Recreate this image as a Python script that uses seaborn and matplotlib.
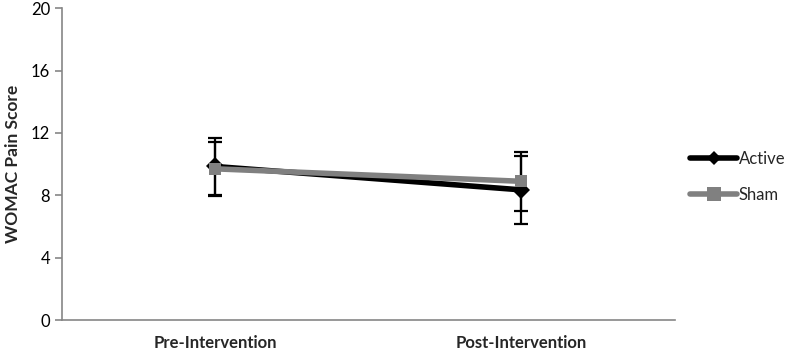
import pandas as pd
import matplotlib.pyplot as plt
import seaborn as sns

# WOMAC pain score, mean and SD
timepoints = ["Pre-Intervention", "Post-Intervention"]
groups = ["Active", "Sham"]
active_mean = [9.85, 8.35]
active_sd = [1.85, 2.2]
sham_mean = [9.7, 8.9]
sham_sd = [1.75, 1.9]
y_ticks = [0, 4, 8, 12, 16, 20]

df = pd.DataFrame({
    "timepoint": timepoints * 2,
    "group": ["Active"] * 2 + ["Sham"] * 2,
    "score": active_mean + sham_mean,
    "sd": active_sd + sham_sd,
})

sns.set_style("white")
plt.rcParams["font.family"] = ["Lato", "DejaVu Sans"]

fig, ax = plt.subplots(figsize=(7.9, 3.53), dpi=100)
fig.subplots_adjust(left=0.0785, right=0.854, bottom=0.093, top=0.977)

palette = {"Active": "black", "Sham": "#808080"}
markers = {"Active": "D", "Sham": "s"}
sizes = {"Active": 7, "Sham": 10}

# error bars first so the markers sit on top
for g in groups:
    sub = df[df["group"] == g]
    ax.errorbar(sub["timepoint"], sub["score"], yerr=sub["sd"], fmt="none",
                ecolor="black", elinewidth=1.6, capsize=5, capthick=1.6, zorder=2)

sns.lineplot(data=df, x="timepoint", y="score", hue="group", style="group",
             palette=palette, markers=markers, dashes=False, linewidth=4,
             markersize=9, markeredgewidth=0, ax=ax, zorder=3, sort=False)
for line, g in zip(ax.get_lines()[-2:], groups):
    line.set_markersize(sizes[g])

ax.set_xlim(-0.5, 1.5)
ax.set_ylim(0, 20)
ax.set_yticks(y_ticks)
ax.set_xticks([0, 1])
ax.set_xticklabels(timepoints, fontweight="bold", fontsize=12)
ax.set_xticks([-0.5, 0.5, 1.5], minor=True)
ax.tick_params(axis="x", which="major", length=0, pad=11)
ax.tick_params(axis="x", which="minor", length=5, color="#868686", width=1.2)
ax.tick_params(axis="y", length=5, color="#868686", width=1.2, labelsize=12,
               left=True, labelcolor="black")
ax.set_xlabel("")
ax.set_ylabel("WOMAC Pain Score", fontweight="bold", fontsize=12.5, labelpad=7)
sns.despine(ax=ax)
for s in ["left", "bottom"]:
    ax.spines[s].set_color("#868686")
    ax.spines[s].set_linewidth(1.2)

handles, labels = ax.get_legend_handles_labels()
ax.get_legend().remove()
leg = fig.legend(handles, labels, loc="center left",
                 bbox_to_anchor=(0.874, 0.50), frameon=False, fontsize=12,
                 handlelength=2.8, handletextpad=0.1, labelspacing=1.2,
                 borderpad=0, borderaxespad=0)
for h in leg.legend_handles:
    h.set_linewidth(4)

fig.savefig("out.png", dpi=100)
